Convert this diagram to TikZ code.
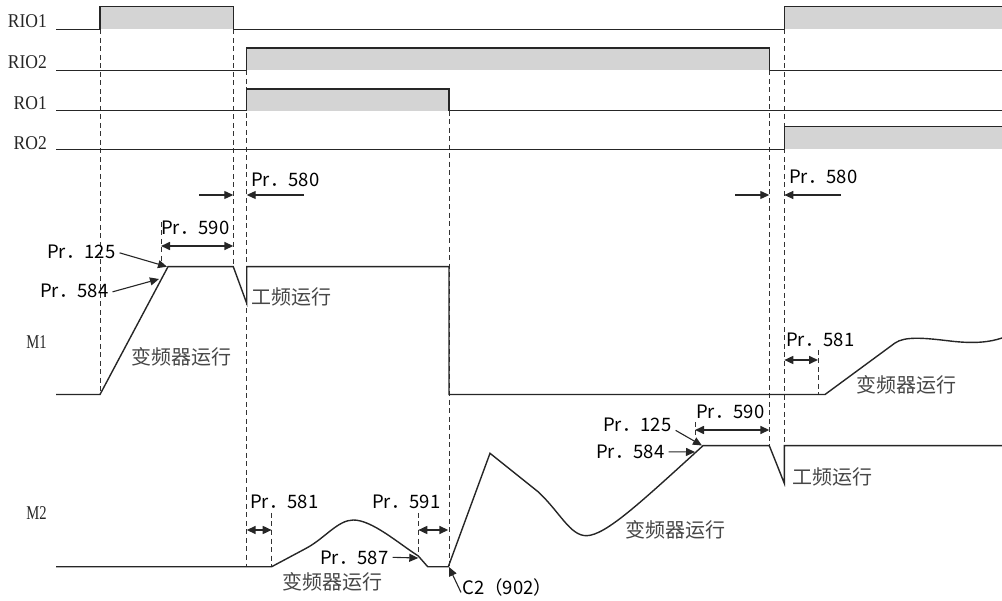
\documentclass[tikz,border=0pt]{standalone}
\usepackage{fontspec}
\newfontfamily\cjk{Noto Sans CJK SC}
\newfontfamily\lbl[FakeStretch=0.9]{Liberation Serif}
\newfontfamily\lblm[FakeStretch=0.75]{Liberation Serif}
\usetikzlibrary{arrows.meta}
\begin{document}
\begin{tikzpicture}[x=1pt,y=-1pt,
 sig/.style={line width=1.4pt, draw=black!85, line join=miter},
 vline/.style={draw=black!80, line width=0.9pt, dash pattern=on 5pt off 3.5pt},
 hi/.style={fill=black!17, draw=none},
 dim/.style={draw=black!85, line width=1.6pt, {Triangle[length=9pt,width=8pt]}-{Triangle[length=9pt,width=8pt]}},
 ptr/.style={draw=black!85, line width=1.1pt, -{Triangle[length=9pt,width=8pt]}},
 pr/.style={font={\cjk\fontsize{18.5}{18.5}\selectfont}, text=black, inner sep=0pt, anchor=base west},
 zh/.style={font={\cjk\fontsize{20}{20}\selectfont}, text=black!72, inner sep=0pt, anchor=base west},
 nm/.style={font={\lbl\fontsize{19.5}{19.5}\selectfont}, text=black!85, inner sep=0pt, anchor=east},
 nmm/.style={font={\lblm\fontsize{19.5}{19.5}\selectfont}, text=black!85, inner sep=0pt, anchor=east},
]
\useasboundingbox (0,0) rectangle (1002,601);

% ---- signal labels
\node[nm] (lRIO1) at (47,21) {RIO1};
\node[nm] (lRIO2) at (47,62) {RIO2};
\node[nm] (lRO1) at (47,103) {RO1};
\node[nm] (lRO2) at (47,143) {RO2};
\node[nmm] (lM1) at (47,342) {M1};
\node[nmm] (lM2) at (47,512.7) {M2};

% ---- pulses (fills)
\fill[hi] (100,6.7) rectangle (233.3,29.5);
\fill[hi] (784,6.7) rectangle (1002,29.5);
\fill[hi] (246.7,48) rectangle (769.3,70.5);
\fill[hi] (246.7,89) rectangle (449,110.7);
\fill[hi] (784,126.7) rectangle (1002,149.5);

% ---- dashed guides
\draw[vline] (100,29.5) -- (100,394.5);
\draw[vline] (233.3,29.5) -- (233.3,266.7);
\draw[vline] (246.7,70.5) -- (246.7,566.7);
\draw[vline] (449,110.7) -- (449,566.7);
\draw[vline] (769.3,70.5) -- (769.3,445.7);
\draw[vline] (784.3,29.5) -- (784.3,445.7);
\draw[vline] (161,222) -- (161,266.7);
\draw[vline] (695,422) -- (695,445.7);
\draw[vline] (818,350) -- (818,394.5);
\draw[vline] (271.7,513) -- (271.7,566.7);
\draw[vline] (418.3,513) -- (418.3,556);

% ---- signals
\draw[sig] (56,29.5) -- (100,29.5) -- (100,6.7) -- (233.3,6.7) -- (233.3,29.5) -- (784.3,29.5) -- (784.3,6.7) -- (1002,6.7);
\draw[sig] (56,70.5) -- (246.7,70.5) -- (246.7,48) -- (769.3,48) -- (769.3,70.5) -- (1002,70.5);
\draw[sig] (56,110.7) -- (246.7,110.7) -- (246.7,89) -- (449,89) -- (449,110.7) -- (1002,110.7);
\draw[sig] (56,149.5) -- (784.3,149.5) -- (784.3,126.7) -- (1002,126.7);

% ---- M1
\draw[sig] (56,394.5) -- (100,394.5) -- (168,266.7) -- (233.3,266.7) -- (246.7,303.3) -- (246.7,266.7) -- (449,266.7) -- (449,394.5) -- (825,394.5) -- (895,343)
  .. controls (905,336) and (925,338) .. (950,341) .. controls (975,344) and (990,342) .. (1002,338);

% ---- M2
\draw[sig] (56,566.7) -- (271.7,566.7) -- (306.7,548)
  .. controls (325,538) and (338,520) .. (353.3,520)
  .. controls (372,520) and (398,543) .. (418.3,556) -- (427.7,566.7) -- (448.3,566.7)
  -- (490,453.3) -- (538,491.7)
  .. controls (560,512) and (570,536) .. (586.7,535.7)
  .. controls (606,535) and (640,503) .. (703,445.7)
  -- (769.3,445.7) -- (784.3,483.3) -- (784.3,445.7) -- (1002,445.7);

% ---- coordinates
\coordinate (a580L1) at (199,195);   \coordinate (t580L1) at (233.3,195);
\coordinate (a580L2) at (304,195);   \coordinate (t580L2) at (246.7,195);
\coordinate (a580R1) at (735,195);   \coordinate (t580R1) at (769.3,195);
\coordinate (a580R2) at (841,195);   \coordinate (t580R2) at (784.3,195);
\coordinate (d590La) at (161,246);   \coordinate (d590Lb) at (233.3,246);
\coordinate (d581Ra) at (784.3,360); \coordinate (d581Rb) at (818,360);
\coordinate (d590Ra) at (695,430);   \coordinate (d590Rb) at (769.3,430);
\coordinate (d581La) at (246.7,530); \coordinate (d581Lb) at (271.7,530);
\coordinate (d591a) at (418.3,530);  \coordinate (d591b) at (448.3,530);
\coordinate (m1top) at (167,266.7);
\coordinate (m1ramp) at (159,279);
\coordinate (m2top) at (702,445.5);
\coordinate (m2ramp) at (695,452);
\coordinate (m2dec) at (418.3,558);
\coordinate (c2pt) at (449,567);

% ---- dimension arrows
\draw[ptr] (a580L1) -- (t580L1);
\draw[ptr] (a580L2) -- (t580L2);
\draw[ptr] (a580R1) -- (t580R1);
\draw[ptr] (a580R2) -- (t580R2);
\draw[dim] (d590La) -- (d590Lb);
\draw[dim] (d581Ra) -- (d581Rb);
\draw[dim] (d590Ra) -- (d590Rb);
\draw[dim] (d581La) -- (d581Lb);
\draw[dim] (d591a) -- (d591b);

% ---- Pr labels
\node[pr] (p580L) at (251,186.5) {Pr．580};
\node[pr] (p590L) at (161,234.5) {Pr．590};
\node[pr] (p125L) at (47,258.5) {Pr．125};
\node[pr] (p584L) at (40,297.5) {Pr．584};
\node[pr] (p580R) at (789,183.5) {Pr．580};
\node[pr] (p581R) at (786,346.5) {Pr．581};
\node[pr] (p590R) at (696,418.5) {Pr．590};
\node[pr] (p125R) at (603,432) {Pr．125};
\node[pr] (p584R) at (596,458.5) {Pr．584};
\node[pr] (p581L) at (250,508) {Pr．581};
\node[pr] (p591) at (372,508) {Pr．591};
\node[pr] (p587) at (320,564) {Pr．587};
\node[pr] (c2) at (462,594.5) {C2（902）};

% ---- pointers
\draw[ptr] ([xshift=4pt,yshift=-1pt]p125L.east) -- (m1top);
\draw[ptr] ([xshift=4pt,yshift=-1pt]p584L.east) -- (m1ramp);
\draw[ptr] ([xshift=4pt,yshift=-5pt]p125R.east) -- (m2top);
\draw[ptr] ([xshift=4pt]p584R.east) -- (m2ramp);
\draw[ptr] ([xshift=4pt]p587.east) -- (m2dec);
\draw[ptr] ([xshift=-1pt,yshift=-5pt]c2.west) -- (c2pt);

% ---- Chinese labels
\node[zh] (zhL1) at (251,304.6) {工频运行};
\node[zh] (zhL2) at (131,364.6) {变频器运行};
\node[zh] (zhR1) at (856,392.6) {变频器运行};
\node[zh] (zhR2) at (792,484.6) {工频运行};
\node[zh] (zhM2a) at (625,537.6) {变频器运行};
\node[zh] (zhM2b) at (282,589.3) {变频器运行};
\end{tikzpicture}
\end{document}
